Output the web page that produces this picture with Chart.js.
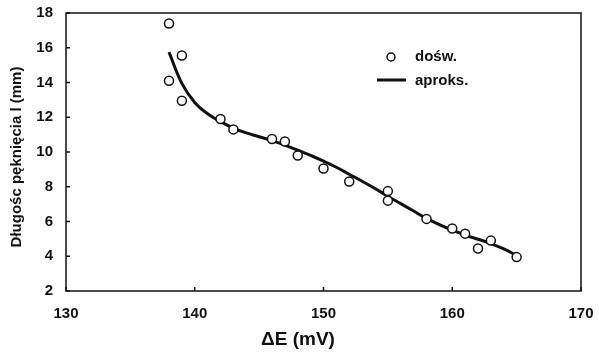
<!DOCTYPE html>
<html>
<head>
<meta charset="utf-8">
<script src="https://cdn.jsdelivr.net/npm/chart.js@4.4.0/dist/chart.umd.min.js"></script>
<style>
  html, body { margin: 0; padding: 0; background: #fff; }
  #wrap { width: 599px; height: 352px; }
</style>
</head>
<body>
<div id="wrap"><canvas id="crackChart" width="599" height="352"></canvas></div>
<script>
// measured points (doświadczenie)
const measX = [138, 138, 139, 139, 142, 143, 146, 147, 148, 150, 152, 155, 155, 158, 160, 161, 162, 163, 165];
const measY = [17.4, 14.1, 15.55, 12.95, 11.9, 11.3, 10.75, 10.6, 9.8, 9.05, 8.3, 7.75, 7.2, 6.15, 5.6, 5.3, 4.45, 4.9, 3.95];

// fitted curve (aproksymacja)
const fitX = [138, 139, 140, 141, 142, 143, 144, 145, 146, 147, 148, 149, 150, 151, 152, 153, 154, 155, 156, 157, 158, 159, 160, 161, 162, 163, 164, 165];
const fitY = [15.75, 13.95, 12.85, 12.2, 11.75, 11.38, 11.1, 10.88, 10.65, 10.4, 10.1, 9.8, 9.48, 9.12, 8.72, 8.32, 7.9, 7.45, 7.03, 6.6, 6.18, 5.82, 5.5, 5.22, 4.98, 4.73, 4.42, 4.05];

const xTicks = [130, 140, 150, 160, 170];
const yTicks = [2, 4, 6, 8, 10, 12, 14, 16, 18];
const legendLabels = ['dośw.', 'aproks.'];
const xTitle = 'ΔE (mV)';
const yTitle = 'Długośc pęknięcia l (mm)';

const FONT = '"Liberation Sans", Arial, sans-serif';

// frame, inward ticks, axis titles and legend
const framePlugin = {
    id: 'frame',
    afterDraw(chart) {
        const { ctx, chartArea: a, scales } = chart;
        ctx.save();
        ctx.strokeStyle = '#111';
        ctx.lineWidth = 1.5;
        ctx.strokeRect(a.left, a.top, a.right - a.left, a.bottom - a.top);
        ctx.beginPath();
        xTicks.forEach(v => {
            const px = scales.x.getPixelForValue(v);
            ctx.moveTo(px, a.bottom);
            ctx.lineTo(px, a.bottom - 4);
        });
        yTicks.forEach(v => {
            const py = scales.y.getPixelForValue(v);
            ctx.moveTo(a.left, py);
            ctx.lineTo(a.left + 4, py);
        });
        ctx.stroke();

        // legend
        const lx = 391, ly1 = 57, ly2 = 80;
        ctx.fillStyle = '#fff';
        ctx.lineWidth = 1.5;
        ctx.beginPath();
        ctx.arc(lx, ly1, 4, 0, Math.PI * 2);
        ctx.fill();
        ctx.stroke();
        ctx.lineWidth = 3;
        ctx.beginPath();
        ctx.moveTo(377, ly2);
        ctx.lineTo(406, ly2);
        ctx.stroke();
        ctx.fillStyle = '#111';
        ctx.font = 'bold 15px ' + FONT;
        ctx.textBaseline = 'middle';
        ctx.fillText(legendLabels[0], 415, ly1);
        ctx.fillText(legendLabels[1], 415, ly2 + 1);

        // axis titles (slightly off-centre as in the original)
        ctx.textAlign = 'center';
        ctx.font = 'bold 19px ' + FONT;
        ctx.fillText(xTitle, 298, 340);
        ctx.font = 'bold 15px ' + FONT;
        ctx.translate(17, 157);
        ctx.rotate(-Math.PI / 2);
        ctx.fillText(yTitle, 0, 0);
        ctx.restore();
    }
};

const ctx = document.getElementById('crackChart').getContext('2d');
new Chart(ctx, {
    type: 'scatter',
    data: {
        datasets: [
            {
                label: legendLabels[1],
                data: fitX.map((x, i) => ({ x: x, y: fitY[i] })),
                showLine: true,
                borderColor: '#111',
                borderWidth: 3,
                pointRadius: 0,
                tension: 0.4,
                fill: false,
                order: 2
            },
            {
                label: legendLabels[0],
                data: measX.map((x, i) => ({ x: x, y: measY[i] })),
                pointRadius: 4.5,
                pointBorderWidth: 1.5,
                pointBorderColor: '#111',
                pointBackgroundColor: '#fff',
                order: 1
            }
        ]
    },
    options: {
        responsive: false,
        animation: false,
        layout: { padding: { left: 0, top: 13, right: 18, bottom: 0 } },
        plugins: {
            legend: { display: false },
            tooltip: { enabled: false }
        },
        scales: {
            x: {
                type: 'linear',
                min: 130,
                max: 170,
                afterFit: s => { s.height = 61; s.paddingLeft = 0; s.paddingRight = 0; },
                afterBuildTicks: s => { s.ticks = xTicks.map(v => ({ value: v })); },
                grid: { display: false, drawTicks: false },
                border: { display: false },
                ticks: { color: '#111', padding: 14, font: { family: FONT, size: 15, weight: 'bold' } }
            },
            y: {
                type: 'linear',
                min: 2,
                max: 18,
                afterFit: s => { s.width = 66; s.paddingTop = 0; s.paddingBottom = 0; },
                afterBuildTicks: s => { s.ticks = yTicks.map(v => ({ value: v })); },
                grid: { display: false, drawTicks: false },
                border: { display: false },
                ticks: { color: '#111', padding: 13, font: { family: FONT, size: 15, weight: 'bold' } }
            }
        }
    },
    plugins: [framePlugin]
});
</script>
</body>
</html>
